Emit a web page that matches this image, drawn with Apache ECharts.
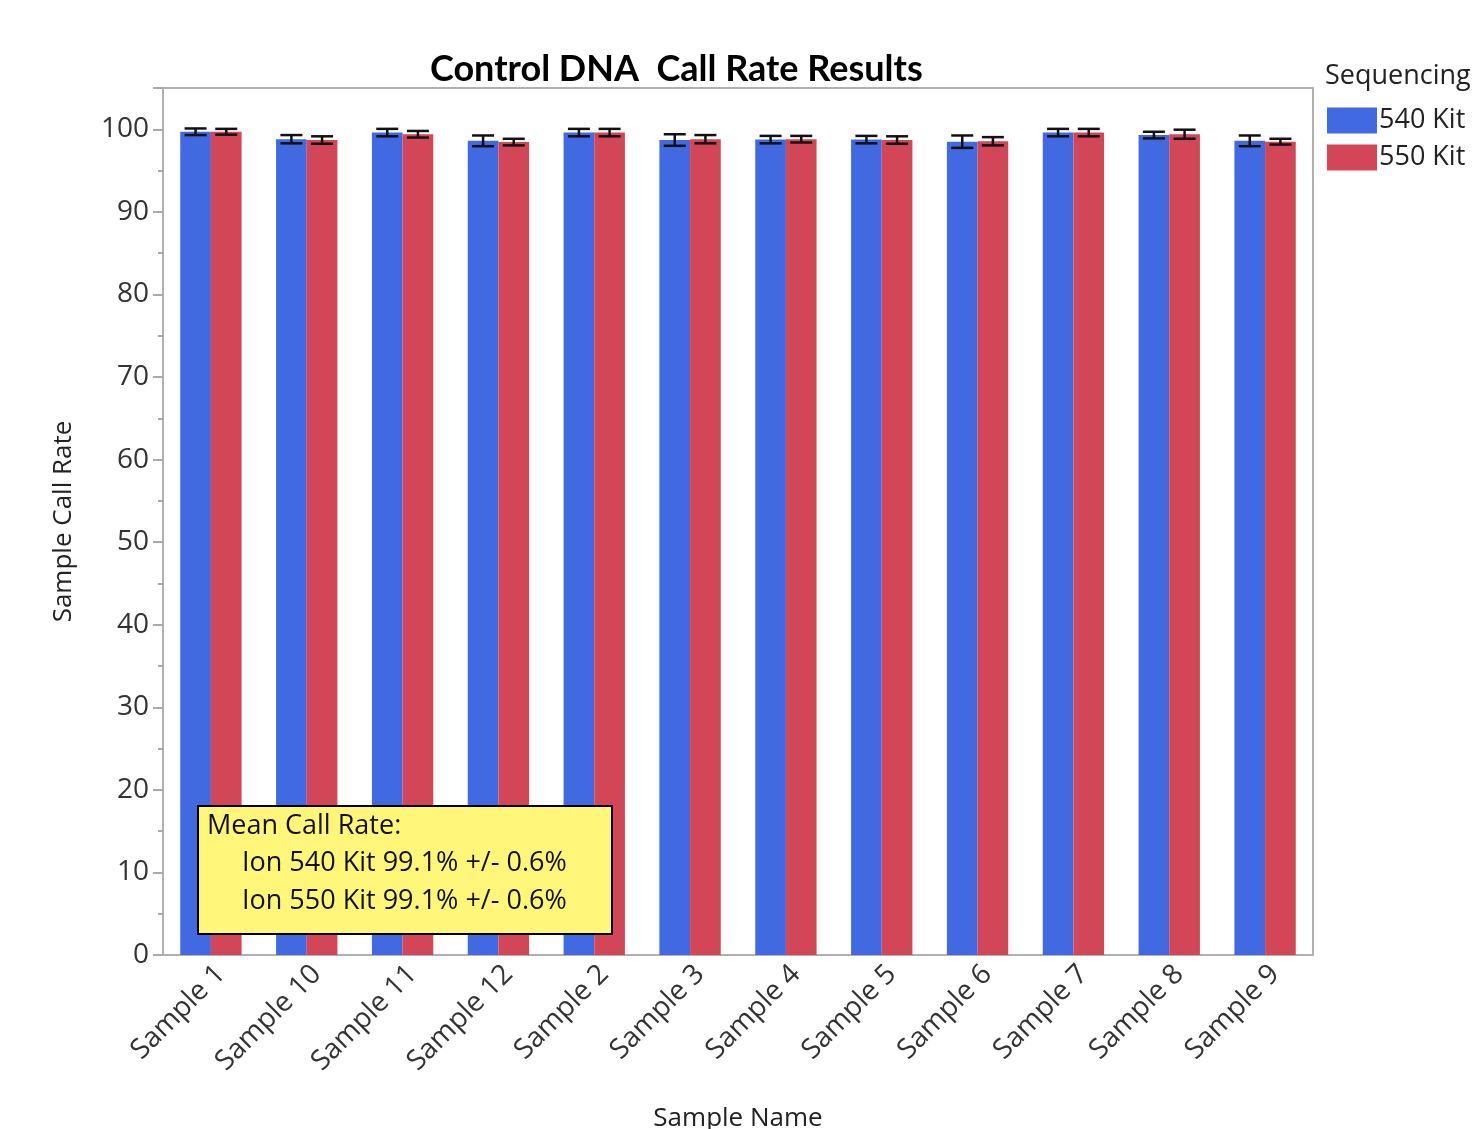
<!DOCTYPE html>
<html>
<head>
<meta charset="utf-8">
<script src="https://cdn.jsdelivr.net/npm/echarts@6/dist/echarts.min.js"></script>
<style>html,body{margin:0;padding:0;background:#fff}#c{width:1480px;height:1129px}</style>
</head>
<body>
<div id="c"></div>
<script>
const categories = ['Sample 1','Sample 10','Sample 11','Sample 12','Sample 2','Sample 3','Sample 4','Sample 5','Sample 6','Sample 7','Sample 8','Sample 9'];
const kit540 = [99.7, 98.8, 99.6, 98.6, 99.6, 98.7, 98.75, 98.75, 98.5, 99.6, 99.3, 98.6];
const kit540Err = [0.4, 0.5, 0.45, 0.65, 0.45, 0.7, 0.45, 0.45, 0.75, 0.45, 0.4, 0.65];
const kit550 = [99.7, 98.7, 99.4, 98.45, 99.6, 98.8, 98.8, 98.7, 98.55, 99.6, 99.4, 98.5];
const kit550Err = [0.35, 0.45, 0.4, 0.4, 0.45, 0.5, 0.4, 0.45, 0.5, 0.45, 0.55, 0.35];
const yTicks = {min: 0, max: 105, interval: 10};
const seriesNames = ['540 Kit', '550 Kit'];
const annotationLines = ['Mean Call Rate:', 'Ion 540 Kit 99.1% +/- 0.6%', 'Ion 550 Kit 99.1% +/- 0.6%'];

const BLUE = '#4169E1', RED = '#D24657';
const FONT = '"Open Sans", "Noto Sans", sans-serif';
const BAR_FRAC = 0.32;

function errData(vals, errs) {
  return vals.map((v, i) => [i, v, errs[i]]);
}
function errRender(sign) {
  return function (params, api) {
    const i = api.value(0), v = api.value(1), e = api.value(2);
    const band = api.size([1, 0])[0];
    const off = sign * band * BAR_FRAC / 2;
    const top = api.coord([i, v + e]);
    const bot = api.coord([i, v - e]);
    const x = top[0] + off;
    const hw = 11;
    const style = {stroke: '#111', lineWidth: 2.5};
    return {
      type: 'group',
      children: [
        {type: 'line', shape: {x1: x, y1: top[1], x2: x, y2: bot[1]}, style},
        {type: 'line', shape: {x1: x - hw, y1: top[1], x2: x + hw, y2: top[1]}, style},
        {type: 'line', shape: {x1: x - hw, y1: bot[1], x2: x + hw, y2: bot[1]}, style}
      ]
    };
  };
}

const chart = echarts.init(document.getElementById('c'));
chart.setOption({
  animation: false,
  title: {
    text: 'Control DNA  Call Rate Results',
    left: 425, top: 46,
    textStyle: {fontFamily: 'Lato, "Open Sans", sans-serif', fontWeight: 'bold', fontSize: 36, color: '#000'}
  },
  legend: {
    data: seriesNames,
    orient: 'vertical',
    left: 1327, top: 107, padding: 0,
    itemWidth: 50, itemHeight: 26, itemGap: 10,
    icon: 'rect',
    textStyle: {fontFamily: FONT, fontSize: 27, color: '#222', padding: [0, 0, 0, -3]}
  },
  graphic: [
    {type: 'text', x: 1325, y: 76, style: {text: 'Sequencing', font: '27px ' + FONT, fill: '#222', verticalAlign: 'middle'}},
    {type: 'rect', left: 197, top: 805, shape: {width: 414, height: 128},
      style: {fill: '#FFF67A', stroke: '#000', lineWidth: 2}, z: 100},
    {type: 'text', x: 207, y: 826, style: {text: annotationLines[0], font: '27px ' + FONT, fill: '#111', verticalAlign: 'middle'}, z: 101},
    {type: 'text', x: 242, y: 863, style: {text: annotationLines[1], font: '27px ' + FONT, fill: '#111', verticalAlign: 'middle'}, z: 101},
    {type: 'text', x: 242, y: 901, style: {text: annotationLines[2], font: '27px ' + FONT, fill: '#111', verticalAlign: 'middle'}, z: 101}
  ],
  grid: {left: 163, width: 1150, top: 88, height: 867, show: true, borderColor: '#b0b0b0', borderWidth: 2,
    containLabel: false, outerBoundsMode: 'none'},
  xAxis: {
    type: 'category',
    data: categories,
    name: 'Sample Name',
    nameLocation: 'middle',
    nameGap: 151,
    nameTextStyle: {fontFamily: FONT, fontSize: 26, color: '#222'},
    axisLine: {lineStyle: {color: '#b0b0b0', width: 2}},
    axisTick: {show: false},
    axisLabel: {rotate: 45, fontFamily: FONT, fontSize: 28, color: '#333', margin: 5, interval: 0,
      align: 'right', verticalAlign: 'top'}
  },
  yAxis: {
    type: 'value',
    min: yTicks.min, max: yTicks.max, interval: yTicks.interval,
    name: 'Sample Call Rate',
    nameLocation: 'middle',
    nameGap: 86,
    nameTextStyle: {fontFamily: FONT, fontSize: 26, color: '#222'},
    axisLine: {show: true, lineStyle: {color: '#b0b0b0', width: 2}},
    axisTick: {show: true, length: 10, lineStyle: {color: '#aaa', width: 2}},
    minorTick: {show: true, splitNumber: 2, length: 5, lineStyle: {color: '#aaa', width: 2}},
    splitLine: {show: false},
    axisLabel: {fontFamily: FONT, fontSize: 28, color: '#333', margin: 14, showMaxLabel: false,
      formatter: v => (v % 10 === 0 ? String(v) : '')}
  },
  series: [
    {name: seriesNames[0], type: 'bar', data: kit540, barWidth: (BAR_FRAC * 100) + '%', barGap: '0%', itemStyle: {color: BLUE}},
    {name: seriesNames[1], type: 'bar', data: kit550, barWidth: (BAR_FRAC * 100) + '%', barGap: '0%', itemStyle: {color: RED}},
    {type: 'custom', data: errData(kit540, kit540Err), renderItem: errRender(-1), z: 10, encode: {x: 0, y: 1}},
    {type: 'custom', data: errData(kit550, kit550Err), renderItem: errRender(1), z: 10, encode: {x: 0, y: 1}}
  ]
});
</script>
</body>
</html>
